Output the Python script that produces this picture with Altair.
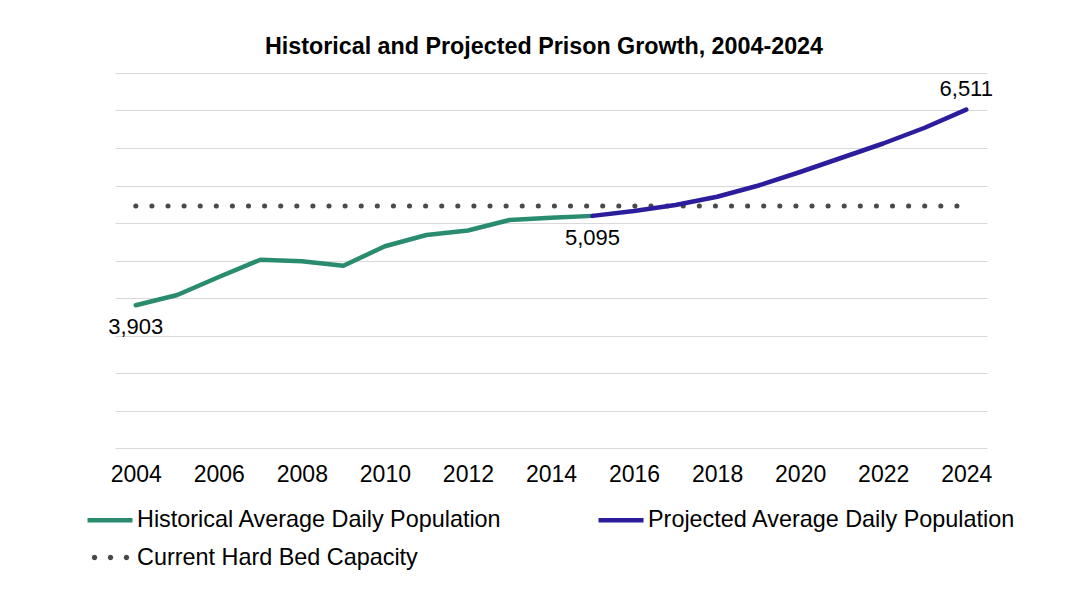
import altair as alt
import pandas as pd

# ---- data ----
hist_years = list(range(2004, 2016))
hist_values = [3903, 4040, 4280, 4510, 4490, 4430, 4690, 4840, 4900, 5040, 5070, 5095]
proj_years = list(range(2015, 2025))
proj_values = [5095, 5160, 5240, 5350, 5500, 5680, 5870, 6060, 6270, 6511]
cap_years = [2004, 2024]
cap_values = [5227, 5227]

pop_names = [
    "Historical Average Daily Population",
    "Projected Average Daily Population",
]
pop_colors = ["#2a8c6f", "#2b1d9c"]
cap_name = "Current Hard Bed Capacity"
cap_color = "#4a4a4a"

below_years = [2004, 2015]
below_values = [3903, 5095]
below_text = ["3,903", "5,095"]
above_years = [2024]
above_values = [6511]
above_text = ["6,511"]

x_ticks = list(range(2004, 2025, 2))
y_grid = list(range(2000, 7001, 500))

FONT = "Liberation Sans"

rows = []
for y, v in zip(hist_years, hist_values):
    rows.append({"year": y, "value": v, "series": pop_names[0]})
for y, v in zip(proj_years, proj_values):
    rows.append({"year": y, "value": v, "series": pop_names[1]})
pop_df = pd.DataFrame(rows)
cap_df = pd.DataFrame({"year": cap_years, "value": cap_values, "cap": [cap_name] * len(cap_years)})

below_df = pd.DataFrame({"year": below_years, "value": below_values, "label": below_text})
above_df = pd.DataFrame({"year": above_years, "value": above_values, "label": above_text})

x_enc = alt.X(
    "year:Q",
    scale=alt.Scale(domain=[2003.5, 2024.5], nice=False, zero=False),
    axis=alt.Axis(
        values=x_ticks, format="d", title=None, grid=False, domain=False,
        ticks=False, labelPadding=15, labelFontSize=23, labelFont=FONT,
        labelColor="#000000",
    ),
)
y_enc = alt.Y(
    "value:Q",
    scale=alt.Scale(domain=[2000, 7000], nice=False, zero=False),
    axis=alt.Axis(
        values=y_grid, labels=False, ticks=False, domain=False, title=None,
        grid=True, gridColor="#d9d9d9", gridWidth=1,
    ),
)

LEG_X = -30
LEG_Y = 422
ROW_STEP = 40
LEG_FONT = 23.4

pop_legend = alt.Legend(
    title=None, orient="none", legendX=LEG_X, legendY=LEG_Y, columns=2,
    direction="horizontal", columnPadding=87, rowPadding=14,
    symbolType="stroke", symbolSize=2025, symbolStrokeWidth=4.5,
    labelFontSize=LEG_FONT, labelFont=FONT, labelLimit=700, labelOffset=2,
    labelColor="#000000",
)

# three round dots drawn as a custom symbol path (unit box -1..1)
dots_path = (
    "M-0.83,0a0.12,0.12 0 1,0 0.24,0a0.12,0.12 0 1,0 -0.24,0Z"
    "M-0.12,0a0.12,0.12 0 1,0 0.24,0a0.12,0.12 0 1,0 -0.24,0Z"
    "M0.59,0a0.12,0.12 0 1,0 0.24,0a0.12,0.12 0 1,0 -0.24,0Z"
)
cap_legend = alt.Legend(
    title=None, orient="none", legendX=LEG_X + 3, legendY=LEG_Y + ROW_STEP,
    symbolType=dots_path, symbolSize=2025, symbolStrokeWidth=0,
    symbolFillColor=cap_color,
    labelFontSize=LEG_FONT, labelFont=FONT, labelLimit=700, labelOffset=4,
    labelColor="#000000",
)

pop_lines = alt.Chart(pop_df).mark_line(strokeCap="round", strokeJoin="round", strokeWidth=4.5).encode(
    x=x_enc,
    y=y_enc,
    color=alt.Color("series:N", scale=alt.Scale(domain=pop_names, range=pop_colors), legend=pop_legend),
)

cap_line = alt.Chart(cap_df).mark_line(strokeCap="round", strokeWidth=5, color=cap_color).encode(
    x=x_enc,
    y=y_enc,
    strokeDash=alt.StrokeDash(
        "cap:N",
        scale=alt.Scale(domain=[cap_name], range=[[0.1, 16]]),
        legend=cap_legend,
    ),
)

below = alt.Chart(below_df).mark_text(fontSize=22, font=FONT, color="#000000", dy=22).encode(
    x=x_enc, y=y_enc, text="label:N"
)
above = alt.Chart(above_df).mark_text(fontSize=22, font=FONT, color="#000000", dy=-21).encode(
    x=x_enc, y=y_enc, text="label:N"
)

chart = alt.layer(cap_line, pop_lines, below, above).properties(
    width=872,
    height=375,
    title=alt.Title(
        "Historical and Projected Prison Growth, 2004-2024",
        fontSize=23.3, font=FONT, fontWeight="bold", anchor="middle",
        offset=14, dx=-7, color="#000000",
    ),
    autosize=alt.AutoSizeParams(type="none"),
    padding={"left": 107, "top": 65, "right": 80, "bottom": 135},
).configure_view(stroke=None)

chart.save("out.html", embed_options={"renderer": "svg", "actions": False})
